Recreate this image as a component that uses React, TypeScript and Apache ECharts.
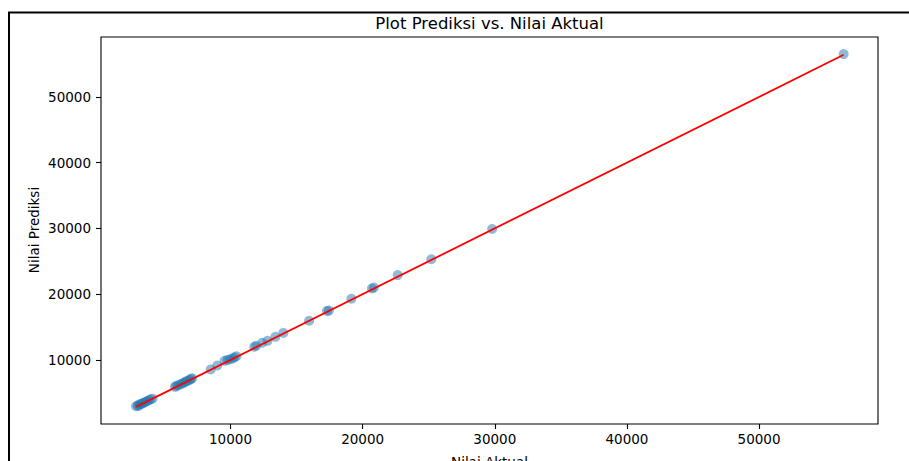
import React, { useEffect, useRef } from "react";
import * as echarts from "echarts";

const actualValues = [
  2850, 2980, 3050, 3150, 3250, 3350, 3450, 3550, 3700, 3800, 3950, 4100,
  5800, 5900, 6050, 6200, 6350, 6500, 6600, 6750, 6900, 7000, 7100,
  8500, 9000,
  9550, 9770, 9950, 10150, 10300, 10450,
  11800, 11950, 12400, 12800, 13400,
  14000, 15950, 17300, 17450, 19150, 20700, 20850, 22650, 25200, 29800, 56400,
];
const predictedValues = [
  2950, 3100, 3000, 3250, 3300, 3400, 3500, 3600, 3750, 3850, 4000, 4100,
  5900, 6050, 6100, 6300, 6400, 6550, 6700, 6800, 6950, 7100, 7200,
  8550, 9150,
  9850, 10000, 10100, 10200, 10400, 10550,
  12000, 12150, 12600, 12900, 13500,
  14100, 15950, 17450, 17500, 19300, 20850, 21000, 22900, 25300, 29900, 56500,
];
const idealLine = [2850, 56400];
const xTickValues = [10000, 20000, 30000, 40000, 50000];
const yTickValues = [10000, 20000, 30000, 40000, 50000];

const titleText = "Plot Prediksi vs. Nilai Aktual";
const xName = "Nilai Aktual";
const yName = "Nilai Prediksi";

export default function App() {
  const ref = useRef<HTMLDivElement>(null);
  useEffect(() => {
    if (!ref.current) return;
    const chart = echarts.init(ref.current, null, { renderer: "svg" });
    const font = "DejaVu Sans";
    const points = actualValues.map((x, i) => [x, predictedValues[i]]);
    chart.setOption({
      animation: false,
      backgroundColor: "#ffffff",
      textStyle: { fontFamily: font },
      grid: {
        left: 101,
        right: 31,
        top: 37,
        bottom: 37,
        show: true,
        borderColor: "#000000",
        borderWidth: 1.1,
        backgroundColor: "transparent",
      },
      xAxis: {
        type: "value",
        min: 200,
        max: 59000,
        splitLine: { show: false },
        axisLine: { show: false },
        axisTick: {
          show: true,
          length: 5,
          customValues: xTickValues,
          lineStyle: { color: "#000", width: 1.1 },
        },
        axisLabel: {
          customValues: xTickValues,
          formatter: (v: number) => String(v),
          margin: 8,
          color: "#000",
          fontSize: 13.5,
          fontFamily: font,
        },
      },
      yAxis: {
        type: "value",
        min: 250,
        max: 59100,
        splitLine: { show: false },
        axisLine: { show: false },
        axisTick: {
          show: true,
          length: 5,
          customValues: yTickValues,
          lineStyle: { color: "#000", width: 1.1 },
        },
        axisLabel: {
          customValues: yTickValues,
          formatter: (v: number) => String(v),
          margin: 10,
          color: "#000",
          fontSize: 13.5,
          fontFamily: font,
        },
      },
      series: [
        {
          type: "scatter",
          data: points,
          symbolSize: 10,
          itemStyle: { color: "#1f77b4", opacity: 0.5 },
        },
        {
          type: "line",
          data: [
            [idealLine[0], idealLine[0]],
            [idealLine[1], idealLine[1]],
          ],
          showSymbol: false,
          symbol: "none",
          lineStyle: { color: "#ff0000", width: 1.8 },
        },
      ],
      graphic: [
        {
          type: "rect",
          shape: { x: 9, y: 12.5, width: 1000, height: 1000 },
          style: { fill: "none", stroke: "#000", lineWidth: 2 },
          silent: true,
        },
        {
          type: "text",
          x: 489.5,
          y: 23,
          style: {
            text: titleText,
            fontSize: 16.5,
            fontFamily: font,
            fill: "#000",
            align: "center",
            verticalAlign: "middle",
          },
        },
        {
          type: "text",
          x: 489.5,
          y: 462,
          style: {
            text: xName,
            fontSize: 13.5,
            fontFamily: font,
            fill: "#000",
            align: "center",
            verticalAlign: "middle",
          },
        },
        {
          type: "text",
          x: 34,
          y: 230,
          rotation: Math.PI / 2,
          style: {
            text: yName,
            fontSize: 13.5,
            fontFamily: font,
            fill: "#000",
            align: "center",
            verticalAlign: "middle",
          },
        },
      ],
    });
    return () => chart.dispose();
  }, []);
  return (
    <div
      ref={ref}
      style={{ position: "fixed", left: 0, top: 0, width: 909, height: 461 }}
    />
  );
}
